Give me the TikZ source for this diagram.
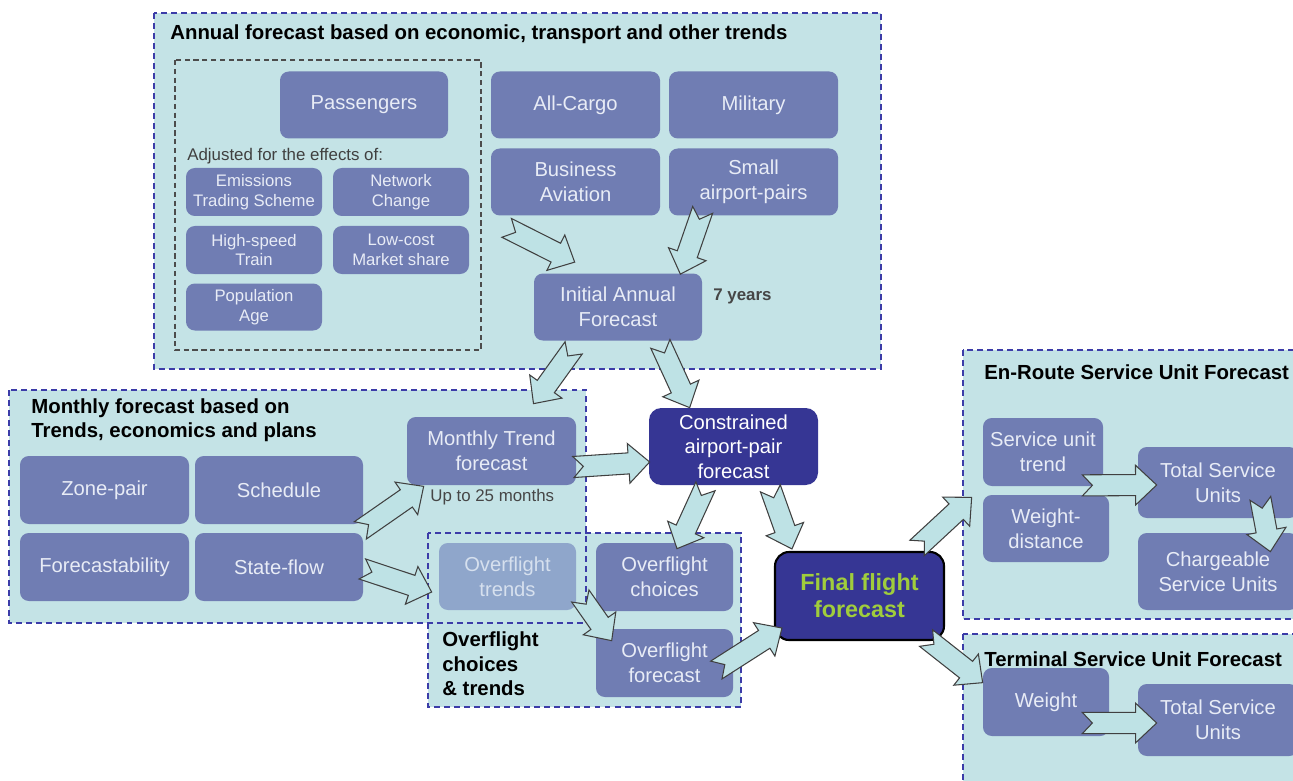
\documentclass[tikz,border=0pt]{standalone}
\usepackage{fontspec}
\setmainfont{Liberation Sans}
\usepackage{tikz}
\usetikzlibrary{calc}
\definecolor{panelfill}{RGB}{196,227,230}
\definecolor{panelline}{RGB}{60,60,168}
\definecolor{boxfill}{RGB}{112,125,179}
\definecolor{boxtext}{RGB}{232,236,246}
\definecolor{fadefill}{RGB}{143,166,203}
\definecolor{fadetext}{RGB}{214,224,238}
\definecolor{darkfill}{RGB}{54,54,148}
\definecolor{finaltext}{RGB}{160,205,60}
\definecolor{arrfill}{RGB}{190,226,229}
\definecolor{notegray}{RGB}{70,70,70}
% block arrow with notched tail: start node/anchor, shift, end node/anchor, shift
\newcommand{\fatarrow}[4]{%
  \coordinate (fas) at ($(#1)+(#2)$);
  \coordinate (fat) at ($(#3)+(#4)$);
  \coordinate (fan) at ($(fat)!12pt!(fas)$);
  \draw[fatarr] ($(fas)!6pt!90:(fat)$) -- ($(fas)!5.7pt!(fat)$) -- ($(fas)!6pt!-90:(fat)$)
    -- ($(fan)!6pt!-90:(fat)$) -- ($(fan)!11.3pt!-90:(fat)$) -- (fat)
    -- ($(fan)!11.3pt!90:(fat)$) -- ($(fan)!6pt!90:(fat)$) -- cycle;}

\begin{document}
\begin{tikzpicture}[x=0.02cm,y=-0.02cm,
    box/.style={rounded corners=5pt, fill=boxfill, text=boxtext, align=center, inner sep=0pt,
      font=\fontsize{11.5}{14.2}\selectfont},
    sbox/.style={box, font=\fontsize{9.5}{11.3}\selectfont},
    sz/.style 2 args={minimum width=#1*0.02cm, minimum height=#2*0.02cm},
    panelborder/.style={draw=panelline, line width=1.1pt, dash pattern=on 3.4pt off 2.3pt},
    ttl/.style={anchor=west, align=left, inner sep=0pt, font=\fontsize{11.6}{13.8}\selectfont\bfseries},
    note/.style={anchor=west, inner sep=0pt, text=notegray, font=\fontsize{9.6}{11}\selectfont},
    fatarr/.style={fill=arrfill, draw=black!75, line width=0.6pt, line join=miter}]
  \useasboundingbox (0,0) rectangle (1293,780);

  % panels
  \fill[panelfill] (154,13) rectangle (881,369);
  \fill[panelfill] (9,390) rectangle (586,623);
  \fill[panelfill] (428,533) rectangle (741,707);
  \fill[panelfill] (963,350) rectangle (1310,619);
  \fill[panelfill] (963,634) rectangle (1310,800);
  \draw[panelborder] (154,13) rectangle (881,369);
  \draw[panelborder] (9,390) rectangle (586,623);
  \draw[panelborder] (428,533) rectangle (741,707);
  \draw[panelborder] (963,350) rectangle (1310,619);
  \draw[panelborder] (963,634) rectangle (1310,800);
  \draw[black!70, line width=0.6pt, dash pattern=on 3pt off 2pt] (175,60) rectangle (481,350);

  % annual forecast
  \node[ttl] (annual) at (170,34) {Annual forecast based on economic, transport and other trends};
  \node[box, sz={168}{67}] (pax) at (364,105) {Passengers};
  \node[box, sz={169}{67}] (cargo) at (575.5,105) {All-Cargo};
  \node[box, sz={169}{67}] (mil) at (753.5,105) {Military};
  \node[box, sz={169}{67}] (bizav) at (575.5,182) {Business\\Aviation};
  \node[box, sz={169}{67}] (small) at (753.5,182) {Small\\airport-pairs};
  \node[note, text=black!75] (adj) at (187,156) {Adjusted for the effects of:};
  \node[sbox, sz={136}{48}] (ets) at (254,192) {Emissions\\Trading Scheme};
  \node[sbox, sz={136}{48}] (netw) at (401,192) {Network\\Change};
  \node[sbox, sz={136}{48}] (hst) at (254,250) {High-speed\\Train};
  \node[sbox, sz={136}{48}] (lcc) at (401,250) {Low-cost\\Market share};
  \node[sbox, sz={136}{47}] (popage) at (254,307) {Population\\Age};
  \node[box, sz={168}{67}] (iaf) at (618,307) {Initial Annual\\Forecast};
  \node[note, font=\fontsize{9.6}{11}\selectfont\bfseries] (yrs) at (713,296) {7 years};

  % monthly forecast
  \node[ttl] (monthly) at (31,420) {Monthly forecast based on\\Trends, economics and plans};
  \node[box, sz={169}{68}] (zone) at (104.5,490) {Zone-pair};
  \node[box, sz={168}{68}] (sched) at (279,490) {Schedule};
  \node[box, sz={169}{68}] (fcast) at (104.5,567) {Forecastability};
  \node[box, sz={168}{68}] (stflow) at (279,567) {State-flow};
  \node[box, sz={169}{68}] (mtf) at (491.5,451) {Monthly Trend\\forecast};
  \node[note] (months) at (430,497) {Up to 25 months};

  % overflight
  \node[box, sz={137}{67}, fill=fadefill, text=fadetext] (oftr) at (507.5,576.5) {Overflight\\trends};
  \node[box, sz={137}{68}] (ofch) at (664.5,577) {Overflight\\choices};
  \node[box, sz={137}{68}] (offc) at (664.5,663) {Overflight\\forecast};
  \node[ttl, font=\fontsize{11.6}{13.9}\selectfont\bfseries] (oftitle) at (442,664) {Overflight\\choices\\\& trends};

  % constrained and final
  \node[box, sz={169}{77}, fill=darkfill, text=white, rounded corners=7pt,
    font=\fontsize{11.5}{13.9}\selectfont] (cons) at (733.5,446.5) {Constrained\\airport-pair\\forecast};
  \node[box, sz={169}{88}, fill=darkfill, text=finaltext, draw=black, line width=1.2pt, rounded corners=8pt,
    font=\fontsize{13.3}{15.5}\selectfont\bfseries] (final) at (859.5,596) {Final flight\\forecast};

  % service units
  \node[ttl] (enroute) at (984,372) {En-Route Service Unit Forecast};
  \node[box, sz={120}{68}] (sut) at (1043,452) {Service unit\\trend};
  \node[box, sz={126}{67}] (wd) at (1046,528.5) {Weight-\\distance};
  \node[box, sz={160}{71}] (tsu) at (1218,482.5) {Total Service\\Units};
  \node[box, sz={160}{77}] (csu) at (1218,571.5) {Chargeable\\Service Units};
  \node[ttl] (terminal) at (984,659) {Terminal Service Unit Forecast};
  \node[box, sz={126}{68}] (wgt) at (1046,702) {Weight};
  \node[box, sz={160}{72}] (tsut) at (1218,720) {Total Service\\Units};

  % arrows
  \fatarrow{bizav.south west}{16,12}{iaf.north west}{41,-11}
  \fatarrow{small.south west}{34,-6}{iaf.north east}{-22,1}
  \fatarrow{iaf.south west}{40,7}{mtf.north}{42,-13}
  \fatarrow{iaf.south east}{-42,3}{cons.north west}{41,0}
  \fatarrow{mtf.east}{-3,16}{cons.west}{1,15.5}
  \fatarrow{sched.south east}{-3,6}{mtf.south west}{17,1}
  \fatarrow{stflow.east}{-1,2}{oftr.west}{-7,15.5}
  \fatarrow{oftr.east}{4,19.5}{offc.north west}{16,12}
  \fatarrow{cons.south}{-28,1}{ofch.north}{12.5,6}
  \fatarrow{cons.south east}{-48,3}{final.north west}{18,-2}
  \fatarrow{offc.east}{-17,7}{final.west}{8,32}
  \fatarrow{final.north east}{-28,-3}{sut.south west}{-11,11}
  \fatarrow{final.south east}{-19,-3}{wgt.north west}{0,15}
  \fatarrow{sut.south east}{-21,-1}{tsu.west}{19,2.5}
  \fatarrow{tsu.south east}{-38,-20}{csu.north east}{-28,19}
  \fatarrow{wgt.east}{-27,21}{tsut.west}{19,3}
\end{tikzpicture}
\end{document}
